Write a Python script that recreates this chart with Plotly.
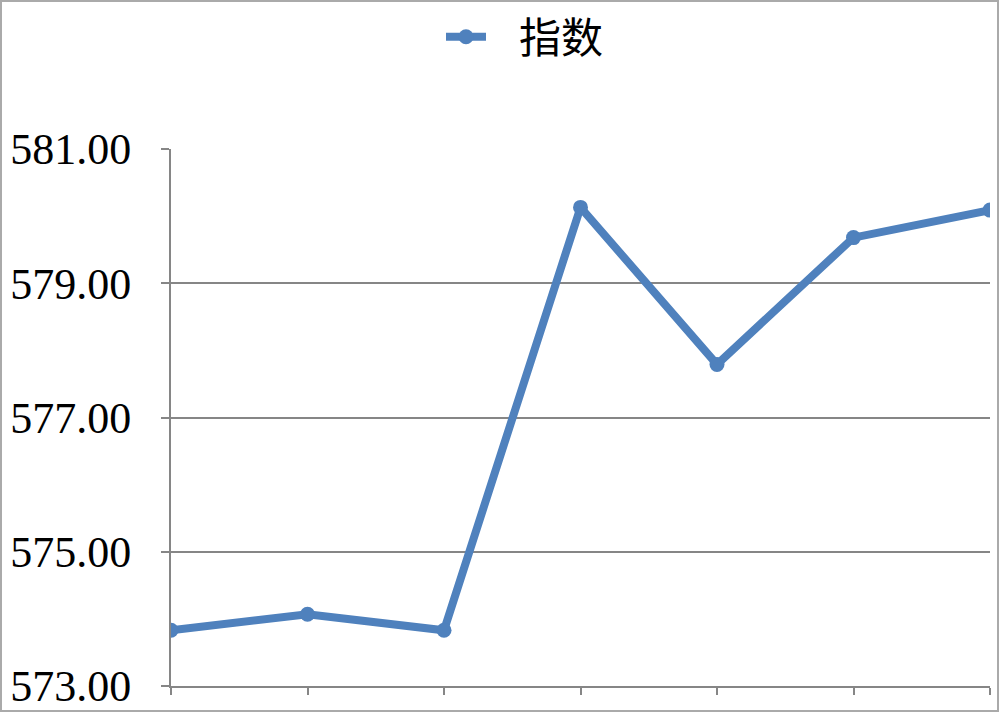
import plotly.graph_objects as go

# chart data
periods = ["1", "2", "3", "4", "5", "6", "7"]
index_values = [573.83, 574.07, 573.83, 580.13, 577.79, 579.68, 580.09]
series_name = "指数"
y_ticks = [573, 575, 577, 579, 581]
y_tick_text = ["573.00", "575.00", "577.00", "579.00", "581.00"]

blue = "rgb(79, 129, 189)"
grid_gray = "rgb(134, 134, 134)"

fig = go.Figure()

fig.add_trace(go.Scatter(
    x=periods,
    y=index_values,
    mode="lines+markers",
    name="\u2002\u2006" + series_name,  # extra gap between symbol and text
    line=dict(color=blue, width=8),
    marker=dict(color=blue, size=15, symbol="circle"),
    showlegend=True
))

# plot area: x 171..990, y 149..686 in a 1000x712 page
L, R, T, B = 171, 10, 149, 26
pw, ph = 1000 - L - R, 712 - T - B

fig.update_layout(
    width=1000,
    height=712,
    margin=dict(l=L, r=R, t=T, b=B, autoexpand=False),
    plot_bgcolor="white",
    paper_bgcolor="white",
    font=dict(family="Liberation Serif", color="black"),
    legend=dict(
        orientation="h",
        x=(525 - L) / pw,
        xanchor="center",
        y=(712 - B - 37) / ph,
        yanchor="middle",
        font=dict(family="Noto Sans CJK SC", size=42, color="black"),
        itemwidth=40,
        bgcolor="rgba(0,0,0,0)"
    ),
    shapes=[dict(
        type="rect",
        xref="paper", yref="paper",
        x0=(1 - L) / pw, x1=(998 - L) / pw,
        y0=(712 - B - 711) / ph, y1=(712 - B - 1) / ph,
        line=dict(color="rgb(170,170,170)", width=2),
        fillcolor="rgba(0,0,0,0)",
        layer="below"
    )]
)

fig.update_xaxes(
    type="category",
    range=[0, len(periods) - 1],
    automargin=False,
    showticklabels=False,
    showgrid=False,
    zeroline=False,
    showline=True,
    linecolor=grid_gray,
    linewidth=2,
    ticks="outside",
    ticklen=7,
    tickwidth=2,
    tickcolor=grid_gray
)
fig.update_yaxes(
    range=[573, 581],
    automargin=False,
    tickvals=y_ticks,
    ticktext=y_tick_text,
    tickfont=dict(family="Liberation Serif", size=44, color="black"),
    showgrid=True,
    gridcolor=grid_gray,
    gridwidth=2,
    zeroline=False,
    showline=True,
    linecolor=grid_gray,
    linewidth=2,
    ticks="outside",
    ticklen=8,
    tickwidth=2,
    tickcolor=grid_gray,
    ticklabelstandoff=21
)

post_script = """
document.body.style.margin = '0';
document.body.style.overflow = 'hidden';
"""

fig.write_html("out.html", post_script=post_script, config={"displayModeBar": False})
